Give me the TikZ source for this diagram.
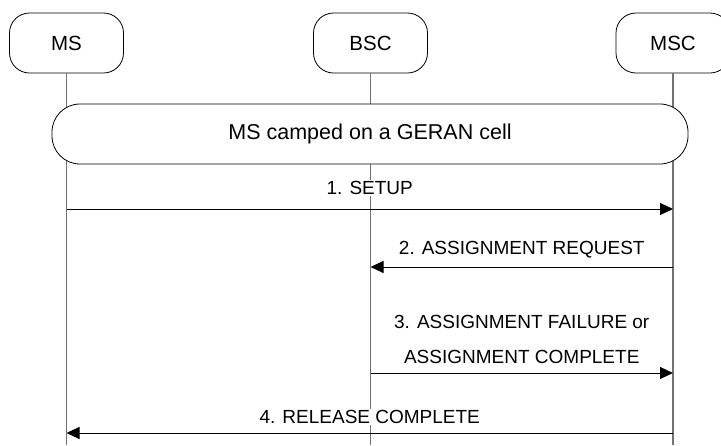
\documentclass[tikz,border=0pt]{standalone}
\usepackage{fontspec}
\setmainfont{Liberation Sans}
\usetikzlibrary{arrows.meta}

\tikzset{
  entity/.style={draw, fill=white, rounded corners=20pt, minimum width=114pt, minimum height=60pt, line width=0.8pt, font=\fontsize{20.5}{24}\selectfont},
  lifeline/.style={draw=black!55, line width=1.2pt},
  msg/.style={line width=1pt, -{Triangle[length=13pt,width=12pt]}},
  msglabel/.style={fill=white, inner sep=1pt, align=center, font=\fontsize{19}{35}\selectfont},
}

\begin{document}
\begin{tikzpicture}[x=1pt, y=-1pt]
	\useasboundingbox (0,0) rectangle (721,445);

	% entities
	\node[entity] (ms) at (66.5,43) {MS};
	\node[entity] (bsc) at (370.5,43) {BSC};
	\node[entity] (msc) at (673,43) {MSC};

	% bottom of the lifelines
	\coordinate (bottom) at (0,445);

	% lifelines
	\draw[lifeline] (ms.south) -- (ms.south |- bottom);
	\draw[lifeline] (bsc.south) -- (bsc.south |- bottom);
	\draw[lifeline] (msc.south) -- (msc.south |- bottom);

	% state box
	\node[entity, rounded corners=28pt, minimum width=636pt, font=\fontsize{21.5}{24}\selectfont] (camped) at (370,134) {MS camped on a GERAN cell};

	% message rows
	\coordinate (row1) at (0,209);
	\coordinate (row2) at (0,267);
	\coordinate (row3) at (0,373);
	\coordinate (row4) at (0,433);

	% messages
	\draw[msg] (ms |- row1) -- (msc |- row1) node[msglabel, midway, yshift=21pt] {1. SETUP};
	\draw[msg] (msc |- row2) -- (bsc |- row2) node[msglabel, midway, yshift=17pt] {2. ASSIGNMENT REQUEST};
	\draw[msg] (bsc |- row3) -- (msc |- row3) node[msglabel, midway, yshift=34pt] {3. ASSIGNMENT FAILURE or\\ASSIGNMENT COMPLETE};
	\draw[msg] (msc |- row4) -- (ms |- row4) node[msglabel, midway, yshift=16pt] {4. RELEASE COMPLETE};
\end{tikzpicture}
\end{document}
